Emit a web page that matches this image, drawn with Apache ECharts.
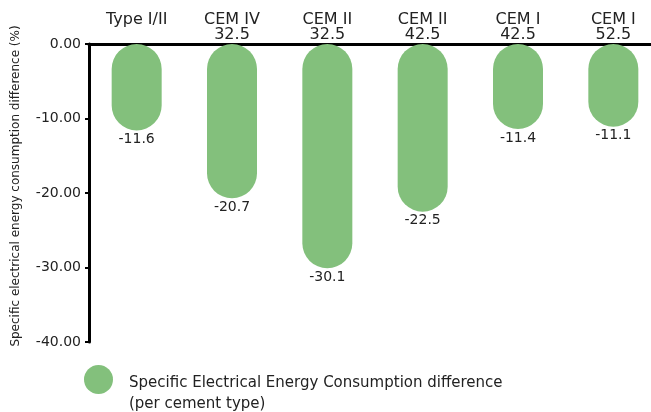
<!DOCTYPE html>
<html>
<head>
<meta charset="utf-8">
<style>
  html, body { margin: 0; padding: 0; background: #fff; }
  #chart { width: 651px; height: 412px; }
</style>
<script src="https://cdn.jsdelivr.net/npm/echarts@6/dist/echarts.min.js"></script>
</head>
<body>
<div id="chart"></div>
<script>
// Cement types (shown along the top axis)
const categories = ['Type I/II', 'CEM IV\n32.5', 'CEM II\n32.5', 'CEM II\n42.5', 'CEM I\n42.5', 'CEM I\n52.5'];
// Specific electrical energy consumption difference, %
const seecDiff = [-11.6, -20.7, -30.1, -22.5, -11.4, -11.1];
// Value axis ticks
const yTicks = [0, -10, -20, -30, -40];

const seriesName = 'Specific Electrical Energy Consumption difference\n(per cement type)';
const FONT = 'DejaVu Sans';
const GREEN = '#83c07c';
const INK = '#222';

const chart = echarts.init(document.getElementById('chart'), null, { renderer: 'canvas' });
chart.setOption({
  animation: false,
  textStyle: { fontFamily: FONT },
  grid: { left: 89, top: 44, width: 572, height: 298, outerBoundsMode: 'none', containLabel: false },
  xAxis: {
    type: 'category',
    position: 'top',
    data: categories,
    axisLine: { lineStyle: { color: '#000', width: 3 } },
    axisTick: { show: false },
    axisLabel: {
      color: INK,
      fontSize: 16,
      lineHeight: 15,
      margin: 2,
      fontFamily: FONT,
      formatter: v => (v.indexOf('\n') >= 0 ? v : v + '\n ')
    }
  },
  yAxis: {
    type: 'value',
    min: yTicks[yTicks.length - 1],
    max: yTicks[0],
    interval: 10,
    name: 'Specific electrical energy consumption difference (%)',
    nameLocation: 'middle',
    nameGap: 67,
    nameTextStyle: { color: INK, fontSize: 12, fontFamily: FONT, padding: [0, 0, 0, 14] },
    axisLine: { show: true, lineStyle: { color: '#000', width: 3 } },
    axisTick: { show: true, length: 4, lineStyle: { color: '#000', width: 2 } },
    splitLine: { show: false },
    axisLabel: {
      color: INK,
      fontSize: 14,
      margin: 8,
      fontFamily: FONT,
      formatter: v => v.toFixed(2)
    }
  },
  legend: {
    left: 84,
    top: 358,
    padding: 0,
    icon: 'circle',
    itemWidth: 29,
    itemHeight: 29,
    itemGap: 16,
    // spacer line keeps the two text lines below the marker's centre
    formatter: name => '{s| }\n' + name.split('\n').map(l => '{a|' + l + '}').join('\n'),
    textStyle: {
      color: INK,
      fontFamily: FONT,
      padding: [0, 0, 0, 11],
      rich: {
        s: { fontSize: 1, lineHeight: 28 },
        a: { fontSize: 15, lineHeight: 21, color: INK, fontFamily: FONT }
      }
    },
    data: [seriesName]
  },
  series: [{
    name: seriesName,
    type: 'bar',
    data: seecDiff,
    barWidth: 50,
    itemStyle: { color: GREEN, borderRadius: 25 },
    label: {
      show: true,
      position: 'bottom',
      distance: 2,
      color: INK,
      fontSize: 14,
      fontFamily: FONT,
      formatter: p => p.value.toFixed(1)
    }
  }]
});
</script>
</body>
</html>
